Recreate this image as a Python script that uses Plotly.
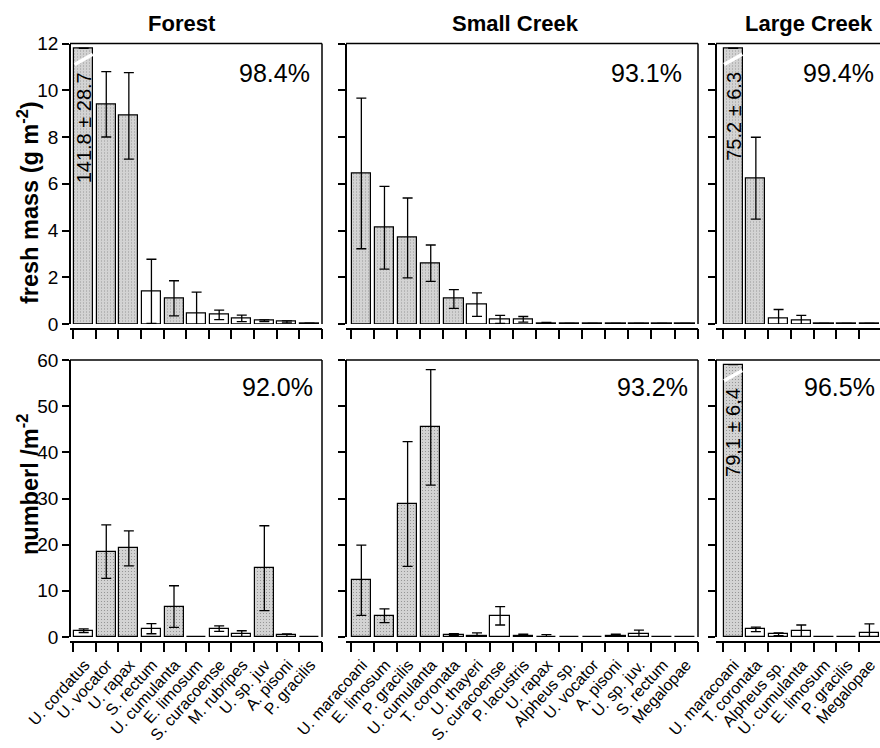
import math
import plotly.graph_objects as go

W, H = 880, 748

# ---------------- data ----------------
forest_species = ["U. cordatus", "U. vocator", "U. rapax", "S. rectum", "U. cumulanta",
                  "E. limosum", "S. curacoense", "M. rubripes", "U. sp. juv", "A. pisoni",
                  "P. gracilis"]
small_species = ["U. maracoani", "E. limosum", "P. gracilis", "U. cumulanta", "T. coronata",
                 "U. thayeri", "S. curacoense", "P. lacustris", "U. rapax", "Alpheus sp.",
                 "U. vocator", "A. pisoni", "U. sp. juv.", "S. rectum", "Megalopae"]
large_species = ["U. maracoani", "T. coronata", "Alpheus sp.", "U. cumulanta", "E. limosum",
                 "P. gracilis", "Megalopae"]

# fresh mass (g m-2): mean and standard error
forest_mass = [141.8, 9.4, 8.9, 1.4, 1.1, 0.46, 0.39, 0.24, 0.14, 0.09, 0.03]
forest_mass_se = [28.7, 1.4, 1.85, 1.37, 0.75, 0.9, 0.2, 0.14, 0.04, 0.04, 0.01]
forest_mass_major = [1, 1, 1, 0, 1, 0, 0, 0, 0, 0, 0]
forest_mass_pct = 98.4

small_mass = [6.44, 4.12, 3.68, 2.6, 1.07, 0.83, 0.2, 0.2, 0.04, 0.02, 0.02, 0.02, 0.02, 0.02, 0.02]
small_mass_se = [3.22, 1.77, 1.71, 0.78, 0.4, 0.5, 0.17, 0.12, 0.03, 0.01, 0.01, 0.01, 0.01, 0.01, 0.01]
small_mass_major = [1, 1, 1, 1, 1, 0, 0, 0, 0, 0, 0, 0, 0, 0, 0]
small_mass_pct = 93.1

large_mass = [75.2, 6.24, 0.24, 0.17, 0.03, 0.03, 0.03]
large_mass_se = [6.3, 1.75, 0.38, 0.2, 0.0, 0.0, 0.0]
large_mass_major = [1, 1, 0, 0, 0, 0, 0]
large_mass_pct = 99.4

# individuals per m2: mean and standard error
forest_num = [1.37, 18.5, 19.2, 1.8, 6.6, 0.1, 1.8, 0.7, 14.9, 0.35, 0.05]
forest_num_se = [0.4, 5.8, 3.8, 1.1, 4.5, 0.0, 0.6, 0.65, 9.2, 0.3, 0.0]
forest_num_major = [0, 1, 1, 0, 1, 0, 0, 0, 1, 0, 0]
forest_num_pct = 92.0

small_num = [12.3, 4.6, 28.8, 45.4, 0.5, 0.3, 4.6, 0.3, 0.1, 0.05, 0.05, 0.3, 0.7, 0.05, 0.05]
small_num_se = [7.6, 1.5, 13.5, 12.5, 0.2, 0.6, 2.0, 0.3, 0.4, 0.0, 0.0, 0.3, 0.8, 0.0, 0.0]
small_num_major = [1, 1, 1, 1, 0, 0, 0, 0, 0, 0, 0, 0, 0, 0, 0]
small_num_pct = 93.2

large_num = [79.1, 1.65, 0.6, 1.3, 0.05, 0.05, 0.93]
large_num_se = [6.4, 0.5, 0.3, 1.3, 0.0, 0.0, 1.9]
large_num_major = [1, 0, 0, 0, 0, 0, 0]
large_num_pct = 96.5

site_titles = ["Forest", "Small Creek", "Large Creek"]
row_titles = ["fresh mass (g m<sup>-2</sup>)", "numberl /m<sup>-2</sup>"]

# ---------------- layout constants (pixels) ----------------
FONT = "Liberation Sans, Arial, Helvetica, sans-serif"
GRAY = "#d3d3d3"

cols = [
    dict(axis=70, first=73.3, last=321.7, right=322, frame_right=True, title_x=182),
    dict(axis=346, first=350.7, last=697.7, right=698, frame_right=True, title_x=515),
    dict(axis=716, first=722.7, last=881.7, right=880, frame_right=False, title_x=809),
]
rows = [
    dict(top=43.5, bottom=324, xline=328.5, ymax=12, dtick=2, labels=False, title_y=203,
         pct_y=73, pct_x=[312, 684, 876], dec="."),
    dict(top=360, bottom=637, xline=641.5, ymax=60, dtick=10, labels=True, title_y=485,
         pct_y=387, pct_x=[315, 690, 877], dec=","),
]

panels = [
    [(forest_species, forest_mass, forest_mass_se, forest_mass_major, forest_mass_pct),
     (small_species, small_mass, small_mass_se, small_mass_major, small_mass_pct),
     (large_species, large_mass, large_mass_se, large_mass_major, large_mass_pct)],
    [(forest_species, forest_num, forest_num_se, forest_num_major, forest_num_pct),
     (small_species, small_num, small_num_se, small_num_major, small_num_pct),
     (large_species, large_num, large_num_se, large_num_major, large_num_pct)],
]

BAR_W = 0.84
BAR_OFF = -0.46

fig = go.Figure()
layout = dict(
    template="none",
    width=W, height=H, margin=dict(l=0, r=0, t=0, b=0, autoexpand=False),
    paper_bgcolor="white", plot_bgcolor="white",
    font=dict(family=FONT, color="black"),
    showlegend=False, bargap=0,
)
shapes = []
annotations = []

for r, row in enumerate(rows):
    for c, col in enumerate(cols):
        idx = r * 3 + c + 1
        sfx = "" if idx == 1 else str(idx)
        cats, vals, ses, major, pct = panels[r][c]
        n = len(cats)
        ymax = row["ymax"]
        ppc = (col["last"] - col["first"]) / n
        rl = -0.5 - (col["first"] - col["axis"]) / ppc
        rr = n - 0.5 + (col["right"] - col["last"]) / ppc

        disp, err = [], []
        for v, s in zip(vals, ses):
            if v > ymax:
                disp.append(ymax * 0.983)
                err.append(float("nan"))
            else:
                disp.append(v)
                err.append(s)

        fig.add_trace(go.Bar(
            x=list(range(n)), y=disp, width=BAR_W, offset=BAR_OFF,
            marker=dict(color=[GRAY if m else "white" for m in major],
                        line=dict(color="black", width=1.2),
                        pattern=dict(shape=["." if m else "" for m in major],
                                     fgcolor="#9c9c9c", fillmode="overlay",
                                     size=3, solidity=0.12)),
            error_y=dict(type="data", array=err, color="black", thickness=1.3, width=5),
            xaxis="x" + sfx, yaxis="y" + sfx, hoverinfo="skip",
        ))

        layout["xaxis" + sfx] = dict(
            domain=[col["axis"] / W, col["right"] / W], range=[rl, rr],
            anchor="free", position=1 - row["xline"] / H, automargin=False,
            showline=True, linecolor="black", linewidth=1.5,
            showgrid=False, zeroline=False,
            tickmode="array", tickvals=list(range(n)), ticktext=cats,
            showticklabels=row["labels"], tickangle=-48, ticklabeloverflow="allow",
            tickfont=dict(size=16, family=FONT),
            ticks="outside", ticklen=7, tickcolor="rgba(0,0,0,0)",
            minor=dict(tickmode="array", tickvals=[i - 0.5 for i in range(n + 1)],
                       ticks="outside", ticklen=10, tickwidth=1.5, tickcolor="black",
                       showgrid=False),
            fixedrange=True,
        )
        layout["yaxis" + sfx] = dict(
            domain=[1 - row["bottom"] / H, 1 - row["top"] / H], range=[0, ymax],
            anchor="free", position=col["axis"] / W, automargin=False,
            showline=True, linecolor="black", linewidth=1.5,
            showgrid=False, zeroline=False,
            tickmode="linear", tick0=0, dtick=row["dtick"],
            ticks="outside", ticklen=7, tickwidth=1.5, tickcolor="black",
            showticklabels=(c == 0), tickfont=dict(size=19, family=FONT),
            fixedrange=True,
        )

        # frame: top and right
        shapes.append(dict(type="line", xref="x" + sfx + " domain", yref="y" + sfx + " domain",
                           x0=0, x1=1, y0=1, y1=1, line=dict(color="black", width=1.5)))
        if col["frame_right"]:
            shapes.append(dict(type="line", xref="x" + sfx + " domain", yref="y" + sfx + " domain",
                               x0=1, x1=1, y0=0, y1=1, line=dict(color="black", width=1.5)))

        # broken bars: white slash + value label
        for i, (v, s) in enumerate(zip(vals, ses)):
            if v > ymax:
                shapes.append(dict(type="line", xref="x" + sfx, yref="y" + sfx,
                                   x0=i + BAR_OFF + 0.02, y0=ymax * 0.925,
                                   x1=i + BAR_OFF + BAR_W - 0.02, y1=ymax * 0.962,
                                   line=dict(color="white", width=3.5)))
                txt = f"{v:.1f} ± {s:.1f}".replace(".", row["dec"])
                annotations.append(dict(
                    x=i + BAR_OFF + BAR_W / 2, y=ymax * 0.905, xref="x" + sfx, yref="y" + sfx,
                    text=txt, textangle=-90, showarrow=False,
                    xanchor="center", yanchor="top", font=dict(size=20, family=FONT)))

        # percentage label
        annotations.append(dict(
            x=row["pct_x"][c] / W, y=1 - row["pct_y"] / H, xref="paper", yref="paper",
            text=f"{pct:.1f}%", showarrow=False, xanchor="right", yanchor="middle",
            font=dict(size=25, family=FONT)))

# site titles
for c, col in enumerate(cols):
    annotations.append(dict(
        x=col["title_x"] / W, y=1 - 23 / H, xref="paper", yref="paper",
        text="<b>" + site_titles[c] + "</b>", showarrow=False,
        xanchor="center", yanchor="middle", font=dict(size=22, family=FONT)))

# row (y-axis) titles
for r, row in enumerate(rows):
    annotations.append(dict(
        x=28 / W, y=1 - row["title_y"] / H, xref="paper", yref="paper",
        text="<b>" + row_titles[r] + "</b>", textangle=-90, showarrow=False,
        xanchor="center", yanchor="middle", font=dict(size=23.5, family=FONT)))

layout["shapes"] = shapes
layout["annotations"] = annotations
fig.update_layout(**layout)
fig.write_html("out.html", config={"displayModeBar": False},
               post_script="document.body.style.margin='0';document.body.style.overflow='hidden';")
